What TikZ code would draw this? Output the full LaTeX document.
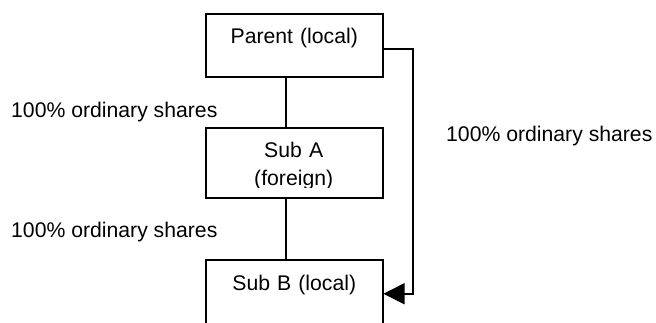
\documentclass[tikz,border=0pt]{standalone}
\usepackage{fontspec}
\setmainfont{Liberation Sans}
\usetikzlibrary{arrows.meta}
\tikzset{
  box/.style={draw=black, line width=1.5pt, inner sep=0pt, anchor=north west, fill=none},
  txt/.style={inner sep=0pt, font=\fontsize{21.2}{28}\selectfont},
  conn/.style={draw=black, line width=1.5pt},
}
\begin{document}
\begin{tikzpicture}[x=1pt,y=-1pt]
\useasboundingbox (0,0) rectangle (656,322);
\clip (0,0) rectangle (656,322);
% boxes
\node[box, txt, text width=177pt, align=center, text height=30pt, text depth=33pt] (parent) at (205,13) {Parent (local)};
\node[box, minimum width=177pt, minimum height=70pt] (subA) at (205,127) {};
\begin{scope}
  \clip (205,127) rectangle (382,187.5);
  \node[txt, anchor=north west, text width=177pt, align=center, text height=30pt, text depth=40pt] (subAtext) at (205,127) {Sub A\\(foreign)};
\end{scope}
\node[box, txt, text width=177pt, align=center, text height=31pt, text depth=37pt] (subB) at (205,259) {Sub B (local)};
% coordinates
\coordinate (cx) at (286,0);
\coordinate (ry) at (413,49);
% connectors
\draw[conn] (parent.south -| cx) -- (subA.north -| cx);
\draw[conn] (subA.south -| cx) -- (subB.north -| cx);
\draw[conn, -{Triangle[length=21pt,width=21pt]}] (parent.east |- ry) -| (subB.east -| ry) -- (subB.east);
% labels
\node[txt, anchor=base west] (l1) at (11,117) {100\% ordinary shares};
\node[txt, anchor=base west] (l2) at (11,237) {100\% ordinary shares};
\node[txt, anchor=base west] (l3) at (446,141) {100\% ordinary shares};
\end{tikzpicture}
\end{document}
